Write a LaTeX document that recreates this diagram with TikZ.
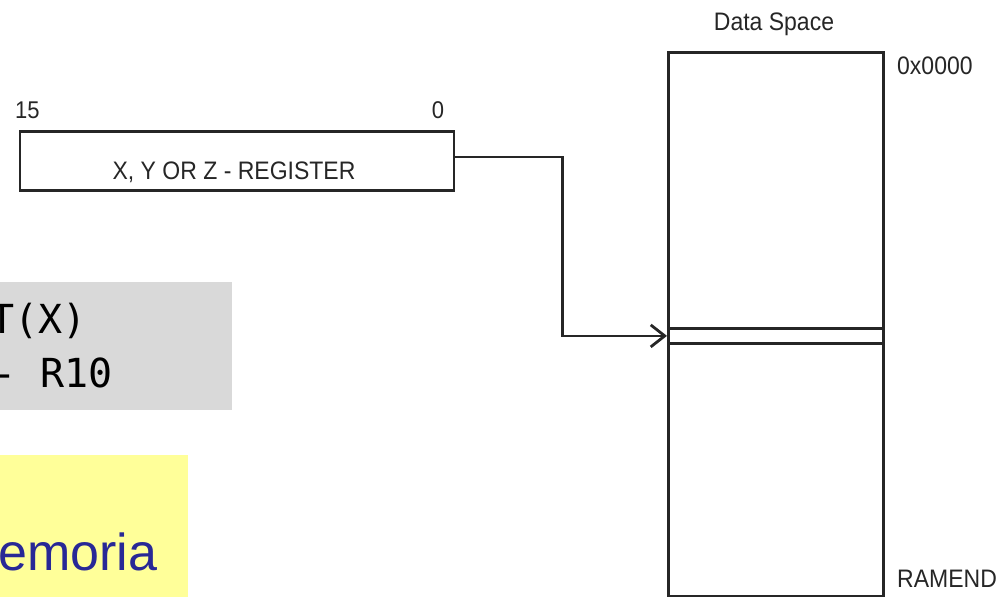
\documentclass[tikz,border=0pt]{standalone}
\usepackage{graphicx}
\usepackage{fontspec}
\setmainfont{Liberation Sans}
\newfontfamily\codefont{DejaVu Sans Mono}
\usetikzlibrary{arrows.meta}
\definecolor{codebg}{RGB}{217,217,217}
\definecolor{notebg}{RGB}{255,255,153}
\definecolor{noteblue}{RGB}{40,40,150}
\definecolor{ink}{RGB}{38,38,38}
% diagram labels are slightly taller than the plain font
\newcommand\tallish[1]{\scalebox{1}[1.1]{#1}}
\begin{document}
\begin{tikzpicture}[x=1pt,y=-1pt,
  lbl/.style={font=\fontsize{23}{23}\selectfont, text=ink, inner sep=0pt},
  box/.style={draw=ink, line width=2.8pt, inner sep=0pt},
  code/.style={font=\codefont\fontsize{40}{40}\selectfont, inner sep=0pt, anchor=base west},
]
\useasboundingbox (0,0) rectangle (1007,597);

% code snippet panel (only its right part is in view)
\fill[codebg] (-2,282) rectangle (232,410);
\node[code] (codeA) at (-10,333) {T(X)};
\node[code] (codeB) at (-8,387) {- R10};

% note panel
\fill[notebg] (-2,455) rectangle (188,599);
\node[inner sep=0pt, anchor=base west, text=noteblue,
      font=\fontsize{52}{52}\selectfont] (note) at (-2,570) {emoria};

% pointer register
\node[box, anchor=north west, minimum width=434pt, minimum height=59pt] (reg) at (18.5,130) {};
\node[lbl, anchor=base] (regname) at (234,179) {\tallish{X, Y OR Z - REGISTER}};
\node[lbl, anchor=base west, font=\fontsize{22}{22}\selectfont] (msb) at (15,118) {\tallish{15}};
\node[lbl, anchor=base, font=\fontsize{22}{22}\selectfont] (lsb) at (438,118) {\tallish{0}};

% data space
\node[box, anchor=north west, minimum width=215pt, minimum height=544pt] (mem) at (667,51) {};
\node[box, anchor=north west, minimum width=215pt, minimum height=15pt] (slot) at (667,327) {};
\node[lbl, anchor=base] (memtitle) at (774,30) {\tallish{Data Space}};
\node[lbl, anchor=base west] (lo) at (897,74) {\tallish{0x0000}};
\node[lbl, anchor=base west] (hi) at (897,587) {\tallish{RAMEND}};

% register points into data space
\draw[ink, line width=2.4pt, -{Straight Barb[length=14pt,width=22pt,line width=2.8pt]}]
  ([yshift=4pt]reg.east) -- ++(107,0) |- (slot.west);
\end{tikzpicture}
\end{document}
